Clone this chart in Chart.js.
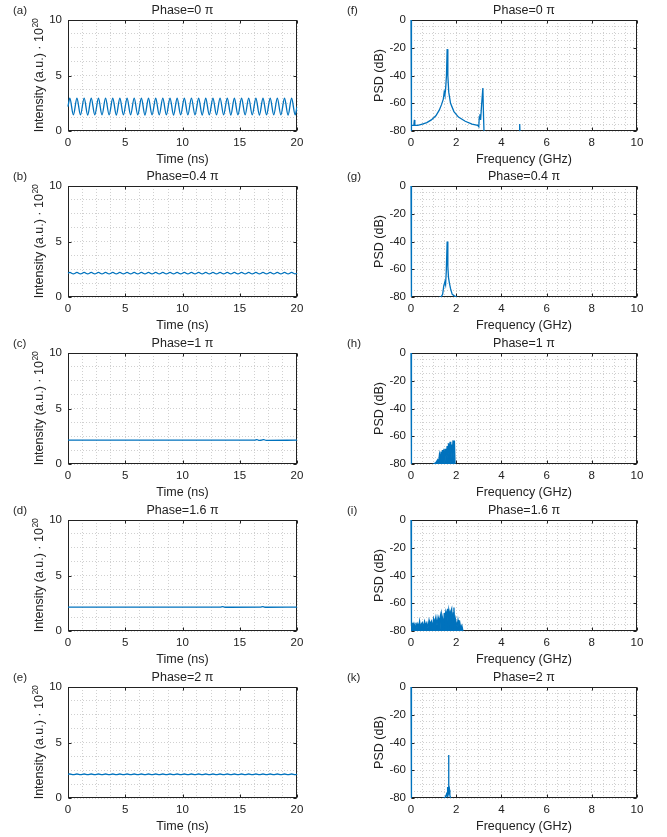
<!DOCTYPE html>
<html>
<head>
<meta charset="utf-8">
<script src="https://cdn.jsdelivr.net/npm/chart.js@4.4.1/dist/chart.umd.min.js"></script>
<style>
  body { margin: 0; background: #fff; }
  #fig { position: relative; width: 667px; height: 837px; font-family: "Liberation Sans", Arial, sans-serif; }
  #fig canvas { position: absolute; }
  .tag { position: absolute; font-size: 11.5px; line-height: 14px; color: #262626; }
</style>
</head>
<body>
<div id="fig"></div>
<script>
// Phase values for each row (in units of pi) and panel tags
const phases = ['0', '0.4', '1', '1.6', '2'];
const tagsLeft = ['(a)', '(b)', '(c)', '(d)', '(e)'];
const tagsRight = ['(f)', '(g)', '(h)', '(i)', '(k)'];

// Intensity traces: times of the ripple extrema (ns)
const tRipple = [0, 0.16, 0.47, 0.78, 1.09, 1.41, 1.72, 2.03, 2.34, 2.66, 2.97, 3.28, 3.59, 3.91, 4.22, 4.53,
  4.84, 5.16, 5.47, 5.78, 6.09, 6.41, 6.72, 7.03, 7.34, 7.66, 7.97, 8.28, 8.59, 8.91, 9.22, 9.53,
  9.84, 10.16, 10.47, 10.78, 11.09, 11.41, 11.72, 12.03, 12.34, 12.66, 12.97, 13.28, 13.59, 13.91, 14.22, 14.53,
  14.84, 15.16, 15.47, 15.78, 16.09, 16.41, 16.72, 17.03, 17.34, 17.66, 17.97, 18.28, 18.59, 18.91, 19.22, 19.53,
  19.84, 20];
const intA = [2.2, 2.95, 1.45, 2.95, 1.45, 2.96, 1.44, 2.95, 1.45, 2.95, 1.45, 2.96, 1.45, 2.95, 1.44, 2.95,
  1.45, 2.95, 1.45, 2.96, 1.45, 2.95, 1.44, 2.95, 1.45, 2.95, 1.45, 2.96, 1.45, 2.95, 1.44, 2.95,
  1.45, 2.95, 1.45, 2.96, 1.45, 2.95, 1.44, 2.95, 1.45, 2.95, 1.45, 2.96, 1.45, 2.95, 1.44, 2.95,
  1.45, 2.95, 1.45, 2.96, 1.45, 2.95, 1.44, 2.95, 1.45, 2.95, 1.45, 2.96, 1.45, 2.95, 1.44, 2.95,
  1.45, 2.2];
const intB = [2.14, 2.21, 2.08, 2.21, 2.08, 2.21, 2.08, 2.21, 2.08, 2.21, 2.08, 2.21, 2.08, 2.21, 2.08, 2.21,
  2.08, 2.21, 2.08, 2.21, 2.08, 2.21, 2.08, 2.21, 2.08, 2.21, 2.08, 2.21, 2.08, 2.21, 2.08, 2.21,
  2.08, 2.21, 2.08, 2.21, 2.08, 2.21, 2.08, 2.21, 2.08, 2.21, 2.08, 2.21, 2.08, 2.21, 2.08, 2.21,
  2.08, 2.21, 2.08, 2.21, 2.08, 2.21, 2.08, 2.21, 2.08, 2.21, 2.08, 2.21, 2.08, 2.21, 2.08, 2.21,
  2.08, 2.14];
const intE = [2.13, 2.16, 2.1, 2.16, 2.1, 2.16, 2.1, 2.16, 2.1, 2.16, 2.1, 2.16, 2.1, 2.16, 2.1, 2.16,
  2.1, 2.16, 2.1, 2.16, 2.1, 2.16, 2.1, 2.16, 2.1, 2.16, 2.1, 2.16, 2.1, 2.16, 2.1, 2.16,
  2.1, 2.16, 2.1, 2.16, 2.1, 2.16, 2.1, 2.16, 2.1, 2.16, 2.1, 2.16, 2.1, 2.16, 2.1, 2.16,
  2.1, 2.16, 2.1, 2.16, 2.1, 2.16, 2.1, 2.16, 2.1, 2.16, 2.1, 2.16, 2.1, 2.16, 2.1, 2.16,
  2.1, 2.13];
const tC = [0, 16.3, 16.5, 16.7, 16.9, 17.1, 17.3, 20];
const intC = [2.15, 2.15, 2.2, 2.12, 2.15, 2.19, 2.13, 2.15];
const tD = [0, 13.3, 13.5, 13.7, 16.8, 17.0, 17.2, 20];
const intD = [2.15, 2.15, 2.19, 2.14, 2.15, 2.2, 2.14, 2.15];

// Power spectral densities: frequency (GHz) and level (dB)
const fF = [0, 0.01, 0.03, 0.1, 0.13, 0.15, 0.17, 0.3, 0.5, 0.7, 0.9, 1.1, 1.25, 1.35, 1.43, 1.47, 1.5, 1.53,
  1.57, 1.6, 1.63, 1.67, 1.75, 1.9, 2.1, 2.4, 2.7, 2.95, 3.0, 3.02, 3.05, 3.08, 3.12, 3.18, 3.21, 3.25,
  4.78, 4.8, 4.82, 4.84];
const psdF = [0, -80, -76, -76, -75, -72, -76, -76, -75, -74, -72, -69, -65, -61, -57, -52, -54, -50,
  -40, -21, -40, -52, -60, -66, -70, -73, -75, -76, -77, -70, -68, -72, -62, -49, -70, -90,
  -90, -75, -75, -90];
const fG = [0, 0.02, 1.33, 1.4, 1.45, 1.5, 1.53, 1.56, 1.6, 1.63, 1.66, 1.7, 1.75, 1.82, 1.9, 2.0, 2.05];
const psdG = [0, -85, -80, -78, -72, -69, -71, -62, -40, -58, -66, -70, -74, -78, -79, -80, -85];
const fH = [0, 0.02, 1.0, 1.1, 1.18, 1.22, 1.26, 1.3, 1.33, 1.36, 1.4, 1.43, 1.46, 1.5, 1.53, 1.56, 1.6,
  1.63, 1.66, 1.7, 1.73, 1.76, 1.8, 1.83, 1.86, 1.9, 1.92, 1.95, 1.97];
const psdH = [0, -85, -80, -79, -77, -79, -73, -77, -71, -78, -70, -76, -69, -80, -69, -74, -67,
  -76, -65, -72, -64, -80, -66, -71, -63, -75, -63, -80, -85];
const fI = [0, 0.02, 0.05, 0.08, 0.11, 0.14, 0.18, 0.22, 0.26, 0.3, 0.34, 0.38, 0.42, 0.46, 0.5, 0.55,
  0.6, 0.65, 0.7, 0.75, 0.8, 0.85, 0.9, 0.95, 1.0, 1.05, 1.1, 1.15, 1.2, 1.25, 1.3, 1.33, 1.36, 1.4,
  1.44, 1.47, 1.5, 1.54, 1.58, 1.62, 1.65, 1.68, 1.72, 1.76, 1.8, 1.84, 1.87, 1.9, 1.93, 1.96, 2.0,
  2.04, 2.08, 2.12, 2.16, 2.2, 2.25, 2.3, 2.35];
const psdI = [0, -76, -79, -74, -78, -75, -77, -74, -78, -75, -77, -73, -78, -75, -74, -77,
  -73, -76, -74, -78, -72, -75, -73, -77, -71, -74, -70, -76, -70, -73, -69, -80, -68, -71,
  -80, -67, -70, -66, -69, -64, -80, -65, -68, -66, -64, -79, -67, -63, -75, -71, -74,
  -77, -72, -76, -74, -78, -76, -80, -85];
const fK = [0, 0.02, 1.5, 1.55, 1.58, 1.6, 1.62, 1.64, 1.66, 1.68, 1.7, 1.72, 1.75, 1.8];
const psdK = [0, -85, -80, -78, -76, -79, -72, -77, -49, -76, -74, -78, -80, -85];

const BLUE = '#0072BD';
const INK = '#222222';
const GRID = '#d0d0d0';
const FONT = '"Liberation Sans", Arial, sans-serif';
const fig = document.getElementById('fig');

// Axes box and inward major ticks, drawn under the data like MATLAB does
const axesBox = {
  id: 'axesBox',
  beforeDatasetsDraw(chart) {
    const { ctx, chartArea: a, scales: { x, y } } = chart;
    const L = Math.round(a.left) + 0.5, R = Math.round(a.right) - 0.5;
    const T = Math.round(a.top) + 0.5, B = Math.round(a.bottom) - 0.5;
    ctx.save();
    ctx.strokeStyle = INK;
    ctx.lineWidth = 1;
    ctx.strokeRect(L, T, R - L, B - T);
    ctx.beginPath();
    x.ticks.forEach(t => {
      if (t.label === '') return;
      const px = Math.round(x.getPixelForValue(t.value)) + 0.5;
      ctx.moveTo(px, B); ctx.lineTo(px, B - 3);
      ctx.moveTo(px, T); ctx.lineTo(px, T + 3);
    });
    y.ticks.forEach(t => {
      if (t.label === '') return;
      const py = Math.round(y.getPixelForValue(t.value)) + 0.5;
      ctx.moveTo(L, py); ctx.lineTo(L + 3, py);
      ctx.moveTo(R, py); ctx.lineTo(R - 3, py);
    });
    ctx.stroke();
    ctx.restore();
  }
};

// Rotated y label with a raised exponent, e.g. "... · 10^20"
const expLabel = {
  id: 'expLabel',
  afterDraw(chart, args, opts) {
    if (!opts.text) return;
    const { ctx, chartArea: a } = chart;
    const main = opts.text, sup = opts.sup;
    ctx.save();
    ctx.fillStyle = INK;
    ctx.font = '12.5px ' + FONT;
    const wMain = ctx.measureText(main).width;
    ctx.font = '8.5px ' + FONT;
    const wSup = ctx.measureText(sup).width;
    ctx.translate(opts.x, (a.top + a.bottom) / 2);
    ctx.rotate(-Math.PI / 2);
    ctx.textBaseline = 'middle';
    ctx.textAlign = 'left';
    const x0 = -(wMain + wSup) / 2;
    ctx.font = '12.5px ' + FONT;
    ctx.fillText(main, x0, 0);
    ctx.font = '8.5px ' + FONT;
    ctx.fillText(sup, x0 + wMain + 0.5, -4.5);
    ctx.restore();
  }
};

function addTag(text, left, top) {
  const d = document.createElement('div');
  d.className = 'tag';
  d.textContent = text;
  d.style.left = left + 'px';
  d.style.top = top + 'px';
  fig.appendChild(d);
}

function makePanel(p) {
  const cv = document.createElement('canvas');
  cv.width = p.w;
  cv.height = 167;
  cv.style.left = p.left + 'px';
  cv.style.top = p.top + 'px';
  fig.appendChild(cv);

  const tickFont = { family: FONT, size: 11.5 };
  const labelFont = { family: FONT, size: 12.5, weight: 'normal' };

  return new Chart(cv, {
    type: 'line',
    data: {
      datasets: [{
        data: p.xs.map((x, i) => ({ x, y: p.ys[i] })),
        borderColor: BLUE,
        backgroundColor: BLUE,
        borderWidth: 1.3,
        pointRadius: 0,
        cubicInterpolationMode: p.smooth ? 'monotone' : 'default',
        fill: p.fill ? { value: p.yMin } : false,
        clip: { left: 2, top: 1, right: 0, bottom: 0 }
      }]
    },
    options: {
      responsive: false,
      animation: false,
      devicePixelRatio: 1,
      layout: { padding: { left: 0, right: p.padR, top: 3, bottom: 0 } },
      plugins: {
        legend: { display: false },
        tooltip: { enabled: false },
        title: {
          display: true,
          text: p.title,
          fullSize: false,
          color: INK,
          font: labelFont,
          padding: { top: 0, bottom: 2 }
        },
        expLabel: { text: p.yTitleMain || '', sup: p.yTitleSup || '', x: 40 }
      },
      scales: {
        x: {
          type: 'linear',
          min: p.xMin, max: p.xMax,
          afterFit: s => { s.height = 36; },
          ticks: {
            stepSize: p.xStep, autoSkip: false, maxRotation: 0, padding: 5,
            color: INK, font: tickFont,
            callback: v => (v % p.xMajor === 0 ? String(v) : '')
          },
          grid: { color: GRID, drawTicks: false, lineWidth: 1 },
          border: { display: false, dash: [1, 2] },
          title: { display: true, text: p.xTitle, color: INK, font: labelFont, padding: { top: 0, bottom: 0 } }
        },
        y: {
          type: 'linear',
          min: p.yMin, max: p.yMax,
          afterFit: s => { s.width = p.yW; },
          ticks: {
            stepSize: p.yStep, autoSkip: false, padding: p.yPad,
            color: INK, font: tickFont,
            callback: v => (v % p.yMajor === 0 ? String(v) : '')
          },
          grid: { color: GRID, drawTicks: false, lineWidth: 1 },
          border: { display: false, dash: [1, 2] },
          title: {
            display: !!p.yTitle, text: p.yTitle || '', color: INK, font: labelFont,
            padding: { top: p.yTitleOff, bottom: 0 }
          }
        }
      }
    },
    plugins: [axesBox, expLabel]
  });
}

const rowTops = [0, 166, 333, 500, 667];
const timeX = [tRipple, tRipple, tC, tD, tRipple];
const timeY = [intA, intB, intC, intD, intE];
const freqX = [fF, fG, fH, fI, fK];
const freqY = [psdF, psdG, psdH, psdI, psdK];

rowTops.forEach((top, r) => {
  makePanel({
    left: 0, top, w: 330, yW: 68, padR: 33, yPad: 6,
    xs: timeX[r], ys: timeY[r], smooth: true, fill: false,
    xMin: 0, xMax: 20, xStep: 1.25, xMajor: 5,
    yMin: 0, yMax: 10, yStep: 1.25, yMajor: 5,
    title: 'Phase=' + phases[r] + ' π',
    xTitle: 'Time (ns)',
    yTitleMain: 'Intensity (a.u.) · 10',
    yTitleSup: '20'
  });
  makePanel({
    left: 330, top, w: 337, yW: 81, padR: 30, yPad: 5, yTitleOff: 42.5,
    xs: freqX[r], ys: freqY[r], smooth: false, fill: r === 2 || r === 3,
    xMin: 0, xMax: 10, xStep: 0.5, xMajor: 2,
    yMin: -80, yMax: 0, yStep: 5, yMajor: 20,
    title: 'Phase=' + phases[r] + ' π',
    xTitle: 'Frequency (GHz)',
    yTitle: 'PSD (dB)'
  });
  addTag(tagsLeft[r], 13, top + 3);
  addTag(tagsRight[r], 347, top + 3);
});
</script>
</body>
</html>
